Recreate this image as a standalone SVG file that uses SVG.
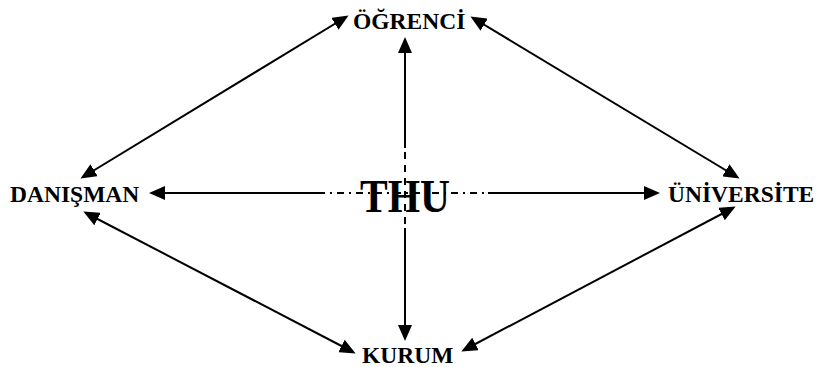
<svg xmlns="http://www.w3.org/2000/svg" width="819" height="367" viewBox="0 0 819 367">
<style>
.lbl{font-family:"Liberation Serif","Times New Roman",serif;font-weight:bold;font-size:23.5px;fill:#000}
.big{font-family:"Liberation Serif","Times New Roman",serif;font-weight:bold;font-size:46px;fill:#000}
.c{stroke:#000;stroke-width:2;fill:none}
.dh{stroke:#000;stroke-width:2;fill:none;stroke-dasharray:7,5,2,5}
.dv{stroke:#000;stroke-width:2;fill:none;stroke-dasharray:7,6}
</style>
<defs>
<marker id="ah" markerUnits="userSpaceOnUse" markerWidth="16" markerHeight="14" viewBox="0 0 16 14" refX="13" refY="7" orient="auto-start-reverse">
<path d="M0,0 L16,7 L0,14 z" fill="#000"/>
</marker>
</defs>
<rect width="819" height="367" fill="#fff"/>
<g id="connectors">
<line class="c" x1="83" y1="177" x2="346" y2="17" marker-start="url(#ah)" marker-end="url(#ah)"/>
<line class="c" x1="473" y1="18" x2="737" y2="177" marker-start="url(#ah)" marker-end="url(#ah)"/>
<line class="c" x1="86" y1="213" x2="353" y2="352" marker-start="url(#ah)" marker-end="url(#ah)"/>
<line class="c" x1="464" y1="350" x2="733" y2="208" marker-start="url(#ah)" marker-end="url(#ah)"/>
<line class="c" x1="152" y1="193" x2="318" y2="193" marker-start="url(#ah)"/>
<line class="dh" x1="318" y1="193" x2="488" y2="193"/>
<line class="c" x1="488" y1="193" x2="657" y2="193" marker-end="url(#ah)"/>
<line class="c" x1="405" y1="40" x2="405" y2="148" marker-start="url(#ah)"/>
<line class="dv" x1="405" y1="152" x2="405" y2="228"/>
<line class="c" x1="405" y1="228" x2="405" y2="338" marker-end="url(#ah)"/>
</g>
<g id="thu"><text class="big" x="360" y="212" textLength="90" lengthAdjust="spacingAndGlyphs">THU</text></g>
<g id="ogrenci"><text class="lbl" x="353" y="29">ÖĞRENCİ</text></g>
<g id="danisman"><text class="lbl" x="10" y="202">DANIŞMAN</text></g>
<g id="universite"><text class="lbl" x="668" y="202">ÜNİVERSİTE</text></g>
<g id="kurum"><text class="lbl" x="362" y="363">KURUM</text></g>
</svg>
